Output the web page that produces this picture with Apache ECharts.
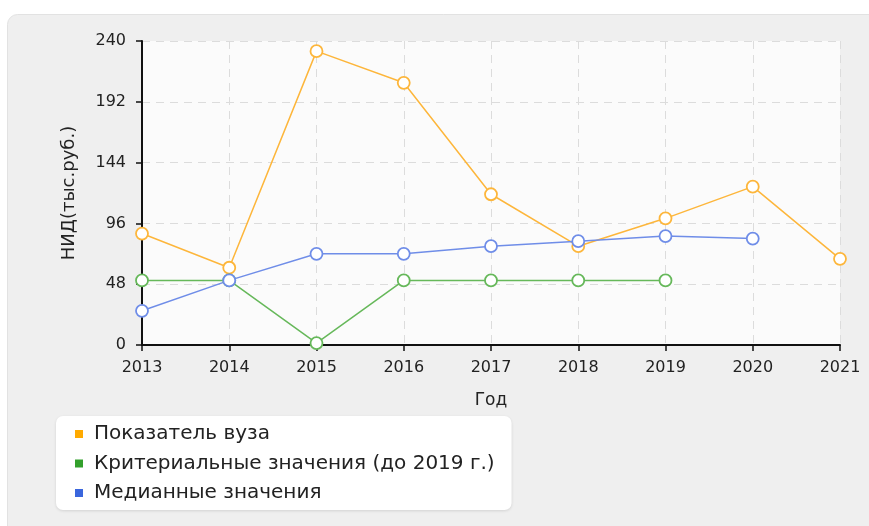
<!DOCTYPE html>
<html><head><meta charset="utf-8">
<script src="https://cdn.jsdelivr.net/npm/echarts@6/dist/echarts.min.js"></script>
<style>html,body{margin:0;padding:0;background:#fff}#c{width:869px;height:526px}</style>
</head><body><div id="c"></div>
<script>
const years = ['2013','2014','2015','2016','2017','2018','2019','2020','2021'];
const uniValues = [88, 61, 232, 207, 119, 78, 100, 125, 68];
const criterionValues = [51, 51, 1.5, 51, 51, 51, 51, null, null];
const medianValues = [27, 51, 72, 72, 78, 82, 86, 84, null];
const yTicks = [0, 48, 96, 144, 192, 240];
const seriesNames = ['Показатель вуза', 'Критериальные значения (до 2019 г.)', 'Медианные значения'];
const lineColors = ['#fdb63b', '#66b85a', '#6f8de8'];
const legendColors = ['#ffaa00', '#33a02c', '#3a66dd'];

const chart = echarts.init(document.getElementById('c'));
const font = 'DejaVu Sans';
function mk(i, data) {
  return {
    name: seriesNames[i], type: 'line', data, symbol: 'circle', symbolSize: 12,
    lineStyle: {color: lineColors[i], width: 1.5},
    itemStyle: {color: '#fff', borderColor: lineColors[i], borderWidth: 1.8},
    emphasis: {disabled: true}, animation: false
  };
}
chart.setOption({
  animation: false,
  graphic: [{
    type: 'rect', left: 7, top: 14, z: -10,
    shape: {width: 880, height: 540, r: 10},
    style: {fill: '#efefef', stroke: '#e2e2e2', lineWidth: 1}
  }],
  grid: {left: 142, right: 29, top: 41, bottom: 181, show: true, backgroundColor: '#fbfbfb', borderWidth: 0},
  legend: {
    orient: 'vertical', left: 56, top: 416, padding: [8, 17, 7, 19],
    backgroundColor: '#fff', borderRadius: 7, itemGap: 9.5,
    shadowColor: 'rgba(0,0,0,0.12)', shadowBlur: 3, shadowOffsetY: 1,
    icon: 'rect', itemWidth: 8, itemHeight: 8,
    textStyle: {fontFamily: font, fontSize: 20, color: '#222', padding: [0, 0, 0, 6]},
    data: seriesNames.map((n, i) => ({name: n, itemStyle: {color: legendColors[i], borderWidth: 0}}))
  },
  xAxis: {
    type: 'category', data: years, boundaryGap: false,
    name: 'Год', nameLocation: 'middle', nameGap: 47,
    nameTextStyle: {fontFamily: font, fontSize: 17, color: '#222'},
    axisLine: {lineStyle: {color: '#111', width: 2}},
    axisTick: {show: true, length: 6, lineStyle: {color: '#111', width: 1.5}},
    axisLabel: {fontFamily: font, fontSize: 16, color: '#222', margin: 15},
    splitLine: {show: true, lineStyle: {color: '#dcdcdc', type: [8, 6]}}
  },
  yAxis: {
    type: 'value', min: 0, max: 240, interval: 48,
    name: 'НИД(тыс.руб.)', nameLocation: 'middle', nameGap: 64, nameRotate: 90,
    nameTextStyle: {fontFamily: font, fontSize: 18, color: '#222'},
    axisLine: {show: true, lineStyle: {color: '#111', width: 2}},
    axisTick: {show: true, length: 6, lineStyle: {color: '#111', width: 1.5}},
    axisLabel: {fontFamily: font, fontSize: 16, color: '#222', margin: 16,
      formatter: v => yTicks.includes(v) ? String(v) : ''},
    splitLine: {show: true, lineStyle: {color: '#dcdcdc', type: [8, 6]}}
  },
  series: [mk(0, uniValues), mk(1, criterionValues), mk(2, medianValues)]
});
</script></body></html>
